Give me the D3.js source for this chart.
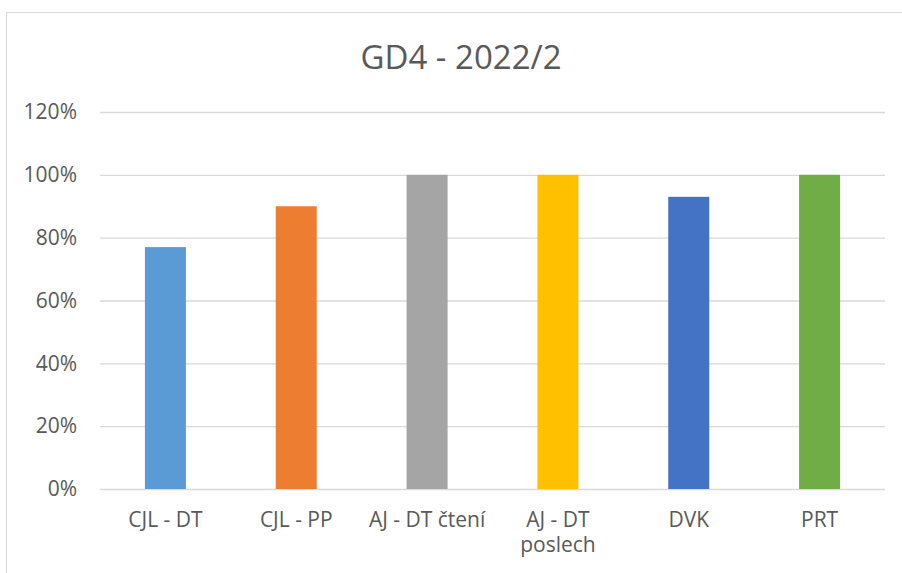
<!DOCTYPE html>
<html>
<head>
<meta charset="utf-8">
<title>GD4 - 2022/2</title>
<script src="https://d3js.org/d3.v7.min.js"></script>
<style>
    body { margin: 0; background: #fff; font-family: "Open Sans", sans-serif; }
    text { fill: #595959; }
</style>
</head>
<body>
<script>
    // chart data
    const title = "GD4 - 2022/2";
    const categories = ["CJL - DT", "CJL - PP", "AJ - DT čtení", "AJ - DT poslech", "DVK", "PRT"];
    const values = [0.77, 0.90, 1.00, 1.00, 0.93, 1.00];
    const colors = ["#5B9BD5", "#ED7D31", "#A5A5A5", "#FFC000", "#4472C4", "#70AD47"];
    const yTicks = [0, 0.2, 0.4, 0.6, 0.8, 1.0, 1.2];

    const W = 902, H = 573;
    const plot = {left: 100, right: 885, top: 112, bottom: 489};

    const svg = d3.select("body").append("svg")
        .attr("width", W).attr("height", H);

    // chart frame
    svg.append("rect")
        .attr("x", 6.5).attr("y", 12.5)
        .attr("width", W).attr("height", H)
        .attr("fill", "#fff").attr("stroke", "#d9d9d9");

    svg.append("text")
        .attr("x", 461).attr("y", 69)
        .attr("text-anchor", "middle")
        .style("font-size", "33px")
        .text(title);

    let x = d3.scaleBand()
        .domain(categories)
        .range([plot.left, plot.right])
        .padding(0);

    let y = d3.scaleLinear()
        .domain([0, 1.2])
        .range([plot.bottom, plot.top]);

    // gridlines + y labels
    let yAxis = svg.append("g")
        .attr("transform", `translate(${plot.left},0)`)
        .call(d3.axisLeft(y).tickValues(yTicks)
            .tickSize(-(plot.right - plot.left))
            .tickPadding(23)
            .tickFormat(d3.format(".0%")));
    yAxis.select(".domain").remove();
    yAxis.selectAll(".tick line").attr("stroke", "#d9d9d9").attr("stroke-width", 1.3);
    yAxis.selectAll(".tick text")
        .style("font-size", "21px").style("font-family", "Open Sans")
        .attr("fill", "#595959");

    // bars, gap width ~219%
    let barW = x.bandwidth() / 3.19;
    svg.append("g").selectAll("rect")
        .data(values)
        .join("rect")
        .attr("x", (d, i) => x(categories[i]) + (x.bandwidth() - barW) / 2)
        .attr("y", d => y(d))
        .attr("width", barW)
        .attr("height", d => y(0) - y(d))
        .attr("fill", (d, i) => colors[i]);

    // category labels (wrapped within band)
    let xAxis = svg.append("g")
        .attr("transform", `translate(0,${plot.bottom})`)
        .call(d3.axisBottom(x).tickSize(0).tickPadding(23));
    xAxis.select(".domain").remove();
    xAxis.selectAll(".tick text")
        .style("font-size", "21px").style("font-family", "Open Sans")
        .attr("fill", "#595959")
        .call(wrap, x.bandwidth());

    function wrap(sel, width) {
        sel.each(function () {
            let t = d3.select(this);
            let words = t.text().split(" ");
            let line = [];
            t.text(null);
            let ts = t.append("tspan").attr("x", 0).attr("dy", t.attr("dy"));
            words.forEach(w => {
                line.push(w);
                ts.text(line.join(" "));
                if (ts.node().getComputedTextLength() > width && line.length > 1) {
                    line.pop();
                    ts.text(line.join(" "));
                    line = [w];
                    ts = t.append("tspan").attr("x", 0).attr("dy", "1.2em").text(w);
                }
            });
        });
    }
</script>
</body>
</html>
